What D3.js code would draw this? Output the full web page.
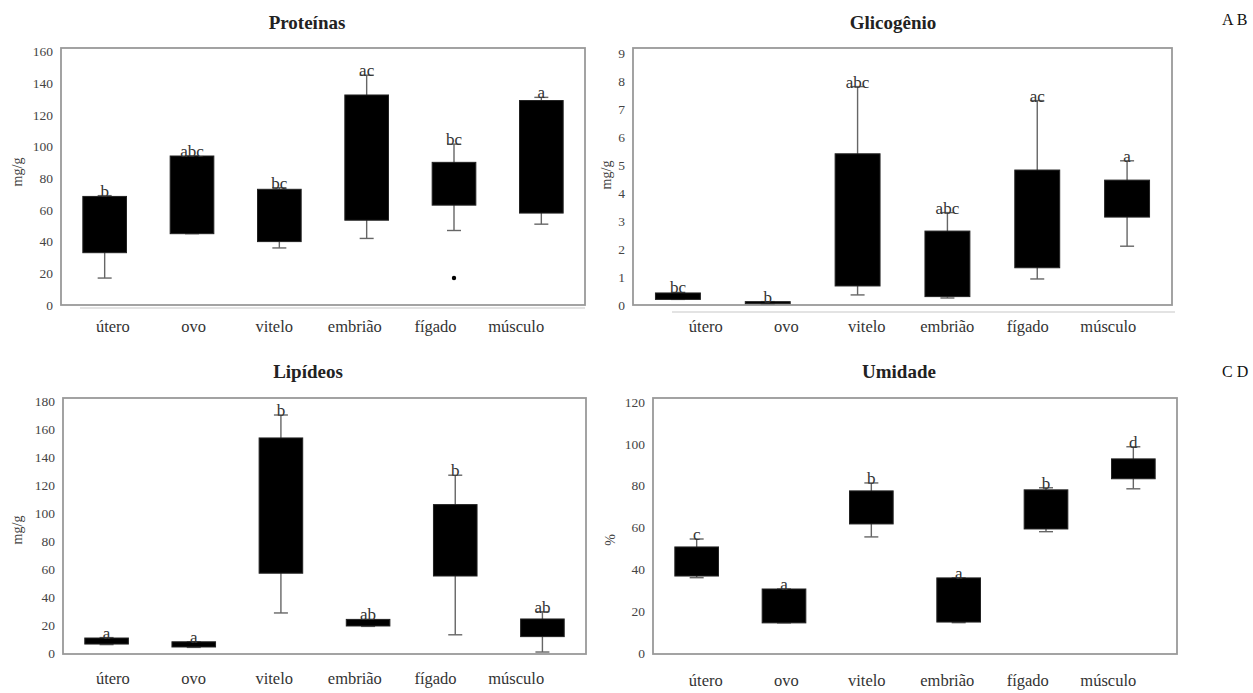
<!DOCTYPE html>
<html>
<head>
<meta charset="utf-8">
<script src="https://cdn.jsdelivr.net/npm/d3@7"></script>
<style>
  body { margin: 0; background: #fff; }
  svg { display: block; font-family: "Liberation Serif", "Times New Roman", serif; }
</style>
</head>
<body>
<div id="chart"></div>
<script>
var categories = ['útero', 'ovo', 'vitelo', 'embrião', 'fígado', 'músculo'];

// Proteínas (mg/g)
var protMin = [17, 45, 36, 42, 47, 51];
var protQ1 = [33, 45, 40, 53.5, 63, 58];
var protQ3 = [68.5, 94, 73, 132.5, 90, 129];
var protMax = [69, 94, 74, 145, 101.5, 131];
var protLetters = ['b', 'abc', 'bc', 'ac', 'bc', 'a'];
var protOutliers = [['fígado', 17]];
var protTicks = [0, 20, 40, 60, 80, 100, 120, 140, 160];

// Glicogênio (mg/g)
var glicMin = [0.2, 0.05, 0.36, 0.25, 0.93, 2.1];
var glicQ1 = [0.2, 0.05, 0.68, 0.3, 1.33, 3.14];
var glicQ3 = [0.43, 0.12, 5.4, 2.64, 4.82, 4.46];
var glicMax = [0.45, 0.12, 7.8, 3.3, 7.3, 5.15];
var glicLetters = ['bc', 'b', 'abc', 'abc', 'ac', 'a'];
var glicTicks = [0, 1, 2, 3, 4, 5, 6, 7, 8, 9];

// Lipídeos (mg/g)
var lipMin = [6, 4, 28.6, 19, 13, 0.7];
var lipQ1 = [6.4, 4.3, 57, 19.3, 55, 11.7];
var lipQ3 = [10.7, 8, 153.6, 24, 106, 24.3];
var lipMax = [11, 8, 170, 24, 127, 29.5];
var lipLetters = ['a', 'a', 'b', 'ab', 'b', 'ab'];
var lipTicks = [0, 20, 40, 60, 80, 100, 120, 140, 160, 180];

// Umidade (%)
var umiMin = [36, 14.4, 55.5, 14.5, 58, 78.5];
var umiQ1 = [36.8, 14.4, 61.7, 14.8, 59.3, 83.3];
var umiQ3 = [50.7, 30.6, 77.5, 35.9, 78, 92.8];
var umiMax = [54.5, 30.6, 81.3, 35.9, 79, 98.6];
var umiLetters = ['c', 'a', 'b', 'a', 'b', 'd'];
var umiTicks = [0, 20, 40, 60, 80, 100, 120];

var svg = d3.select('#chart').append('svg')
  .attr('width', 1253)
  .attr('height', 693);

function boxes(min, q1, q3, max, letters) {
  return categories.map(function (c, i) {
    return { cat: c, min: min[i], q1: q1[i], q3: q3[i], max: max[i], letter: letters[i] };
  });
}

var panels = [
  { title: 'Proteínas', unit: 'mg/g', data: boxes(protMin, protQ1, protQ3, protMax, protLetters),
    outliers: protOutliers, ticks: protTicks, yMax: 160,
    left: 61, right: 585, top: 48, bottom: 305, y0: 305, y1: 51.4,
    labelRange: [72, 556], labelY: 332, titleX: 307, titleY: 29, unitX: 17, unitY: 172,
    baseline: [80, 585, 308] },
  { title: 'Glicogênio', unit: 'mg/g', data: boxes(glicMin, glicQ1, glicQ3, glicMax, glicLetters),
    outliers: [], ticks: glicTicks, yMax: 9,
    left: 633, right: 1172, top: 48, bottom: 305, y0: 305, y1: 53,
    labelRange: [665, 1148], labelY: 332, titleX: 893, titleY: 29, unitX: 606, unitY: 175,
    baseline: [672, 1175, 312] },
  { title: 'Lipídeos', unit: 'mg/g', data: boxes(lipMin, lipQ1, lipQ3, lipMax, lipLetters),
    outliers: [], ticks: lipTicks, yMax: 180,
    left: 63, right: 586, top: 398, bottom: 654, y0: 653, y1: 401,
    labelRange: [72, 556], labelY: 684, titleX: 308, titleY: 378, unitX: 17, unitY: 530 },
  { title: 'Umidade', unit: '%', data: boxes(umiMin, umiQ1, umiQ3, umiMax, umiLetters),
    outliers: [], ticks: umiTicks, yMax: 120,
    left: 653, right: 1177, top: 398, bottom: 654, y0: 653, y1: 402,
    labelRange: [665, 1148], labelY: 686, titleX: 899, titleY: 378, unitX: 610, unitY: 540 }
];

panels.forEach(function (p) {
  var g = svg.append('g');

  var x = d3.scaleBand()
    .domain(categories)
    .range([p.left, p.right])
    .paddingInner(0.5)
    .paddingOuter(0.25);

  var y = d3.scaleLinear()
    .domain([0, p.yMax])
    .range([p.y0, p.y1]);

  // frame
  g.append('rect')
    .attr('x', p.left).attr('y', p.top)
    .attr('width', p.right - p.left).attr('height', p.bottom - p.top)
    .attr('fill', 'none').attr('stroke', '#999').attr('stroke-width', 1.8);

  if (p.baseline) {
    g.append('line')
      .attr('x1', p.baseline[0]).attr('x2', p.baseline[1])
      .attr('y1', p.baseline[2]).attr('y2', p.baseline[2])
      .attr('stroke', '#c8c8c8').attr('stroke-width', 1.2);
  }

  // y axis labels only
  var yAxis = g.append('g')
    .attr('transform', 'translate(' + p.left + ',0)')
    .call(d3.axisLeft(y).tickValues(p.ticks).tickSize(0).tickPadding(8));
  yAxis.select('.domain').remove();
  yAxis.selectAll('text')
    .attr('font-family', '"Liberation Serif", serif')
    .attr('font-size', 13.5).attr('fill', '#444');

  // category labels (drawn on their own, slightly shifted axis)
  var xl = d3.scalePoint().domain(categories).range(p.labelRange).padding(0.5);
  var xAxis = g.append('g')
    .attr('transform', 'translate(0,' + (p.labelY - 12) + ')')
    .call(d3.axisBottom(xl).tickSize(0).tickPadding(0));
  xAxis.select('.domain').remove();
  xAxis.selectAll('text')
    .attr('font-family', '"Liberation Serif", serif')
    .attr('font-size', 16.5).attr('fill', '#333');

  var bw = x.bandwidth();
  var cap = 14;
  var box = g.selectAll('.box').data(p.data).enter().append('g');

  // whiskers
  box.append('line')
    .attr('x1', function (d) { return x(d.cat) + bw / 2; })
    .attr('x2', function (d) { return x(d.cat) + bw / 2; })
    .attr('y1', function (d) { return y(d.max); })
    .attr('y2', function (d) { return y(d.min); })
    .attr('stroke', '#666').attr('stroke-width', 1.4);
  box.append('line')
    .attr('x1', function (d) { return x(d.cat) + bw / 2 - cap / 2; })
    .attr('x2', function (d) { return x(d.cat) + bw / 2 + cap / 2; })
    .attr('y1', function (d) { return y(d.max); })
    .attr('y2', function (d) { return y(d.max); })
    .attr('stroke', '#666').attr('stroke-width', 1.4);
  box.append('line')
    .attr('x1', function (d) { return x(d.cat) + bw / 2 - cap / 2; })
    .attr('x2', function (d) { return x(d.cat) + bw / 2 + cap / 2; })
    .attr('y1', function (d) { return y(d.min); })
    .attr('y2', function (d) { return y(d.min); })
    .attr('stroke', '#666').attr('stroke-width', 1.4);

  // boxes
  box.append('rect')
    .attr('x', function (d) { return x(d.cat); })
    .attr('width', bw)
    .attr('y', function (d) { return y(d.q3); })
    .attr('height', function (d) { return Math.max(1, y(d.q1) - y(d.q3)); })
    .attr('fill', '#000').attr('stroke', '#222').attr('stroke-width', 1);

  // significance letters
  box.append('text')
    .attr('x', function (d) { return x(d.cat) + bw / 2; })
    .attr('y', function (d) { return y(d.max) + 1; })
    .attr('text-anchor', 'middle')
    .attr('font-size', 17).attr('fill', '#333')
    .text(function (d) { return d.letter; });

  // outliers
  g.selectAll('.out').data(p.outliers).enter().append('circle')
    .attr('cx', function (d) { return x(d[0]) + bw / 2; })
    .attr('cy', function (d) { return y(d[1]); })
    .attr('r', 2.2).attr('fill', '#000');

  // title
  g.append('text')
    .attr('x', p.titleX).attr('y', p.titleY)
    .attr('text-anchor', 'middle')
    .attr('font-size', 19).attr('font-weight', 'bold').attr('fill', '#222')
    .text(p.title);

  // unit
  g.append('text')
    .attr('transform', 'translate(' + p.unitX + ',' + p.unitY + ') rotate(-90)')
    .attr('text-anchor', 'middle').attr('dy', '0.35em')
    .attr('font-size', 14).attr('fill', '#444')
    .text(p.unit);
});

svg.append('text').attr('x', 1222).attr('y', 25)
  .attr('font-size', 16).attr('fill', '#111').text('A B');
svg.append('text').attr('x', 1222).attr('y', 377)
  .attr('font-size', 16).attr('fill', '#111').text('C D');
</script>
</body>
</html>
